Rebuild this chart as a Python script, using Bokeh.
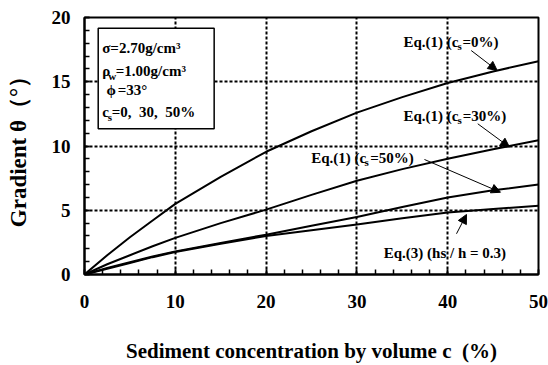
from bokeh.plotting import figure
from bokeh.models import (Range1d, SingleIntervalTicker, Arrow, NormalHead)
from bokeh.core.properties import value
from bokeh.embed import file_html
from bokeh.resources import INLINE

# ---- data ----
conc = [0, 2.5, 5, 7.5, 10, 15, 20, 25, 30, 35, 40, 45, 50]
eq1_cs0 = [0, 1.5, 2.9, 4.2, 5.5, 7.6, 9.55, 11.15, 12.6, 13.8, 14.9, 15.8, 16.6]
eq1_cs30 = [0, 0.8, 1.5, 2.2, 2.85, 4.0, 5.05, 6.2, 7.3, 8.2, 9.0, 9.75, 10.45]
eq1_cs50 = [0, 0.5, 0.95, 1.4, 1.8, 2.45, 3.1, 3.8, 4.47, 5.25, 6.0, 6.55, 7.0]
eq3 = [0, 0.45, 0.9, 1.35, 1.75, 2.4, 3.0, 3.45, 3.9, 4.38, 4.82, 5.1, 5.35]

x_label = "Sediment concentration by volume c\u00a0\u00a0(%)"
y_label = "Gradient θ（°）"

FONT = value("Liberation Serif")

p = figure(width=548, height=365, output_backend="svg", toolbar_location=None,
           x_range=Range1d(0, 50), y_range=Range1d(0, 20),
           min_border_left=84, min_border_right=10, min_border_top=17,
           min_border_bottom=91)
p.background_fill_color = "white"
p.border_fill_color = "white"
p.outline_line_color = "black"
p.outline_line_width = 2

p.xaxis.ticker = SingleIntervalTicker(interval=10, num_minor_ticks=5)
p.yaxis.ticker = SingleIntervalTicker(interval=5, num_minor_ticks=5)

for ax in (p.xaxis[0], p.yaxis[0]):
    ax.axis_line_width = 2
    ax.axis_line_color = "black"
    ax.major_tick_in = 5
    ax.major_tick_out = 0
    ax.minor_tick_in = 5
    ax.minor_tick_out = 0
    ax.major_tick_line_width = 1.5
    ax.minor_tick_line_width = 1.5
    ax.major_label_text_font = "Liberation Serif"
    ax.major_label_text_font_style = "bold"
    ax.major_label_text_font_size = "19px"
    ax.major_label_text_color = "black"
    ax.axis_label_text_font = "Liberation Serif"
    ax.axis_label_text_font_style = "bold"
    ax.axis_label_text_font_size = "21px"
    ax.axis_label_text_color = "black"

p.xaxis.axis_label = x_label
p.yaxis.axis_label = y_label
p.yaxis.axis_label_text_font_size = "23px"
p.xaxis.major_label_standoff = 20
p.xaxis.axis_label_standoff = 28
p.yaxis.major_label_standoff = 14
p.yaxis.axis_label_standoff = 18

for g in (p.xgrid[0], p.ygrid[0]):
    g.grid_line_color = "black"
    g.grid_line_width = 2
    g.grid_line_dash = "3 2"

# parameter box
p.quad(left=[1.51], right=[14.28], top=[19.17], bottom=[11.34],
       fill_color="white", line_color="black", line_width=1.5)

def txt(x, y, s, size="15px"):
    p.text(x=[x], y=[y], text=[s], text_font=FONT, text_font_style="bold",
           text_font_size=size, text_color="black", text_align="left",
           text_baseline="middle")

txt(1.95, 17.59, "σ=2.70g/cm³")
txt(1.95, 15.80, "ρ")
txt(2.62, 15.47, "w", "11px")
txt(3.45, 15.80, "=1.00g/cm³")
txt(2.42, 14.32, "ϕ")
txt(3.65, 14.32, "=33°")
txt(1.95, 12.61, "c")
txt(2.55, 12.28, "s", "11px")
txt(3.0, 12.61, "=0,\u00a0\u00a030,\u00a0\u00a050%")

# curves
for ys in (eq1_cs0, eq1_cs30, eq1_cs50, eq3):
    p.line(conc, ys, line_color="black", line_width=2)

# curve labels
txt(35.13, 18.08, "Eq.(1) (c", "15px")
txt(41.08, 17.78, "s", "11px")
txt(41.63, 18.08, "=0%)", "15px")

txt(35.13, 12.35, "Eq.(1) (c", "15px")
txt(41.08, 12.06, "s", "11px")
txt(41.66, 12.35, "=30%)", "15px")

txt(24.97, 9.07, "Eq.(1) (c", "15px")
txt(30.84, 8.79, "s", "11px")
txt(31.46, 9.07, "=50%)", "15px")

txt(32.96, 1.71, "Eq.(3) (hs / h = 0.3)", "15px")

# arrows
for xs, ys, xe, ye in [(42.59, 17.43, 45.45, 15.88),
                       (43.31, 11.73, 46.81, 9.91),
                       (37.44, 8.95, 45.81, 6.40),
                       (40.97, 3.17, 42.07, 4.67)]:
    p.add_layout(Arrow(end=NormalHead(size=9, fill_color="black", line_color="black"),
                       x_start=xs, y_start=ys, x_end=xe, y_end=ye,
                       line_color="black", line_width=1))

open("out.html", "w").write(file_html(p, INLINE))
